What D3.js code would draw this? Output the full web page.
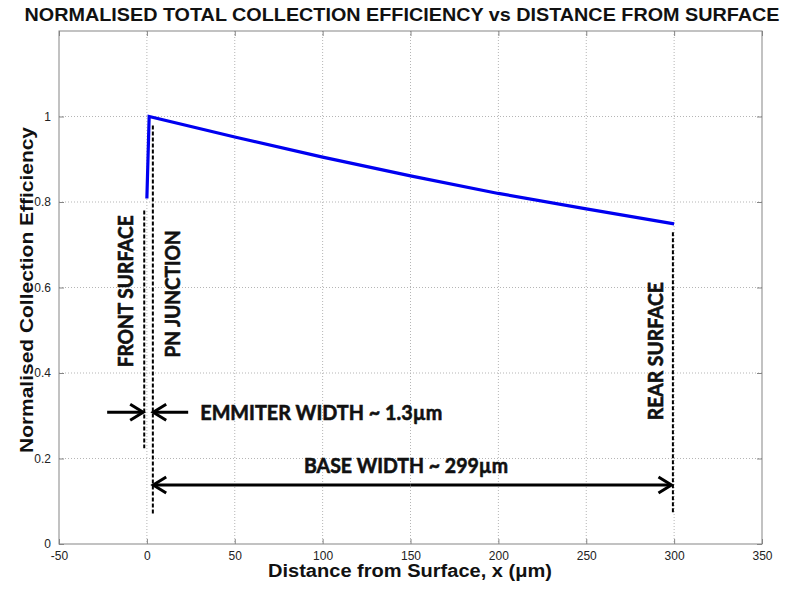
<!DOCTYPE html>
<html>
<head>
<meta charset="utf-8">
<script src="https://d3js.org/d3.v7.min.js"></script>
<style type="text/css">
body { margin: 0; background: #fff; }
.tick-label { font: 12px "Liberation Sans", Arial, sans-serif; fill: #222; }
.ax-title { font: bold 18px "Liberation Sans", Arial, sans-serif; fill: #111; }
.note { font: bold 21px Lato, "Open Sans", sans-serif; fill: #111; stroke: #111; stroke-width: 0.6; }
</style>
</head>
<body>
<svg width="797" height="590"></svg>
<script>

// collection efficiency vs distance (um)
var distance = [0, 1.3, 50, 100, 150, 200, 250, 300];
var efficiency = [0.808, 1.0, 0.952, 0.905, 0.861, 0.820, 0.784, 0.749];

var xTicks = [-50, 0, 50, 100, 150, 200, 250, 300, 350];
var yTicks = [0, 0.2, 0.4, 0.6, 0.8, 1];

// dashed marker lines (front surface, pn junction, rear surface)
var markerX = [-1.5, 3.4, 299.3];
var markerTop = [0.780, 0.979, 0.729];
var markerBottom = [0.224, 0.068, 0.070];
var markerNames = ["FRONT SURFACE", "PN JUNCTION", "REAR SURFACE"];

var svg = d3.select("svg"),
    width = +svg.attr("width"),
    height = +svg.attr("height");

var plotLeft = 59, plotRight = 762, plotTop = 31, plotBottom = 544;

var x = d3.scaleLinear().domain([-50, 350]).range([plotLeft, plotRight]);
var y = d3.scaleLinear().domain([0, 1.2]).range([plotBottom, plotTop]);

// grid
var grid = svg.append("g");
grid.selectAll(".gx")
    .data(xTicks.slice(1, -1))
    .enter().append("line")
      .attr("x1", function(d) { return x(d); })
      .attr("x2", function(d) { return x(d); })
      .attr("y1", plotTop).attr("y2", plotBottom)
      .attr("stroke", "#b5b5b5").attr("stroke-dasharray", "1,2");
grid.selectAll(".gy")
    .data(yTicks.slice(1))
    .enter().append("line")
      .attr("y1", function(d) { return y(d); })
      .attr("y2", function(d) { return y(d); })
      .attr("x1", plotLeft).attr("x2", plotRight)
      .attr("stroke", "#b5b5b5").attr("stroke-dasharray", "1,2");

// axes (matlab style, ticks pointing in)
var axisColor = "#858585";
function styleAxis(g) {
  g.select(".domain").remove();
  g.selectAll(".tick line").attr("stroke", axisColor);
  g.selectAll(".tick text").attr("class", "tick-label").attr("fill", null);
}
svg.append("g")
    .attr("transform", "translate(0," + plotBottom + ")")
    .call(d3.axisBottom(x).tickValues(xTicks).tickFormat(function(d) { return String(d); }).tickSizeInner(-5).tickPadding(7))
    .call(styleAxis);
svg.append("g")
    .attr("transform", "translate(0," + plotTop + ")")
    .call(d3.axisTop(x).tickValues(xTicks).tickFormat("").tickSizeInner(-5))
    .call(styleAxis);
svg.append("g")
    .attr("transform", "translate(" + plotLeft + ",0)")
    .call(d3.axisLeft(y).tickValues(yTicks).tickFormat(function(d) { return String(d); }).tickSizeInner(-5).tickPadding(8))
    .call(styleAxis);
svg.append("g")
    .attr("transform", "translate(" + plotRight + ",0)")
    .call(d3.axisRight(y).tickValues(yTicks).tickFormat("").tickSizeInner(-5))
    .call(styleAxis);

svg.append("rect")
    .attr("x", plotLeft).attr("y", plotTop)
    .attr("width", plotRight - plotLeft).attr("height", plotBottom - plotTop)
    .attr("fill", "none").attr("stroke", axisColor);

// data line
var line = d3.line()
    .x(function(d, i) { return x(distance[i]); })
    .y(function(d) { return y(d); });

svg.append("path")
    .datum(efficiency)
    .attr("d", line)
    .attr("fill", "none")
    .attr("stroke", "#0000f0")
    .attr("stroke-width", 3.2)
    .attr("stroke-linejoin", "miter");

// dashed markers
svg.selectAll(".marker")
    .data(markerX)
    .enter().append("line")
      .attr("x1", function(d) { return x(d); })
      .attr("x2", function(d) { return x(d); })
      .attr("y1", function(d, i) { return y(markerTop[i]); })
      .attr("y2", function(d, i) { return y(markerBottom[i]); })
      .attr("stroke", "#000").attr("stroke-width", 2)
      .attr("stroke-dasharray", "4,2");

// rotated labels
var labelX = [-7.8, 18.9, 293.4];
var labelY = [0.591, 0.585, 0.451];
var labelLen = [152, 127, 138];
svg.selectAll(".vlabel")
    .data(markerNames)
    .enter().append("text")
      .attr("class", "note")
      .attr("text-anchor", "middle")
      .attr("transform", function(d, i) { return "translate(" + x(labelX[i]) + "," + y(labelY[i]) + ") rotate(-90)"; })
      .attr("textLength", function(d, i) { return labelLen[i]; })
      .attr("lengthAdjust", "spacingAndGlyphs")
      .text(function(d) { return d; });

// arrows
function arrow(x0, x1, yv) {
  var a = x(x0), b = x(x1), yy = y(yv);
  var dir = b > a ? 1 : -1;
  svg.append("line")
      .attr("x1", a).attr("x2", b - dir * 1.5).attr("y1", yy).attr("y2", yy)
      .attr("stroke", "#000").attr("stroke-width", 3);
  svg.append("path")
      .attr("d", "M" + (b - dir * 13) + "," + (yy - 8) + "L" + b + "," + yy + "L" + (b - dir * 13) + "," + (yy + 8))
      .attr("fill", "none").attr("stroke", "#000").attr("stroke-width", 3)
      .attr("stroke-linejoin", "miter");
}
arrow(-22.6, -2.1, 0.308);
arrow(23.5, 3.6, 0.308);
arrow(150, 3.6, 0.138);
arrow(150, 298.5, 0.138);

svg.append("text")
    .attr("class", "note")
    .attr("x", x(30.4)).attr("y", y(0.290))
    .attr("textLength", 242).attr("lengthAdjust", "spacingAndGlyphs")
    .text("EMMITER WIDTH ~ 1.3\u00b5m");
svg.append("text")
    .attr("class", "note")
    .attr("x", x(89.4)).attr("y", y(0.166))
    .attr("textLength", 204).attr("lengthAdjust", "spacingAndGlyphs")
    .text("BASE WIDTH ~ 299\u00b5m");

// titles
svg.append("text")
    .attr("class", "ax-title")
    .attr("x", 402).attr("y", 21)
    .attr("text-anchor", "middle")
    .attr("textLength", 755).attr("lengthAdjust", "spacingAndGlyphs")
    .text("NORMALISED TOTAL COLLECTION EFFICIENCY vs DISTANCE FROM SURFACE");
svg.append("text")
    .attr("class", "ax-title")
    .attr("x", 410).attr("y", 577)
    .attr("text-anchor", "middle")
    .attr("textLength", 284).attr("lengthAdjust", "spacingAndGlyphs")
    .text("Distance from Surface, x (\u03bcm)");
svg.append("text")
    .attr("class", "ax-title")
    .attr("transform", "translate(33,290) rotate(-90)")
    .attr("text-anchor", "middle")
    .attr("textLength", 326).attr("lengthAdjust", "spacingAndGlyphs")
    .text("Normalised Collection Efficiency");

</script>
</body>
</html>
